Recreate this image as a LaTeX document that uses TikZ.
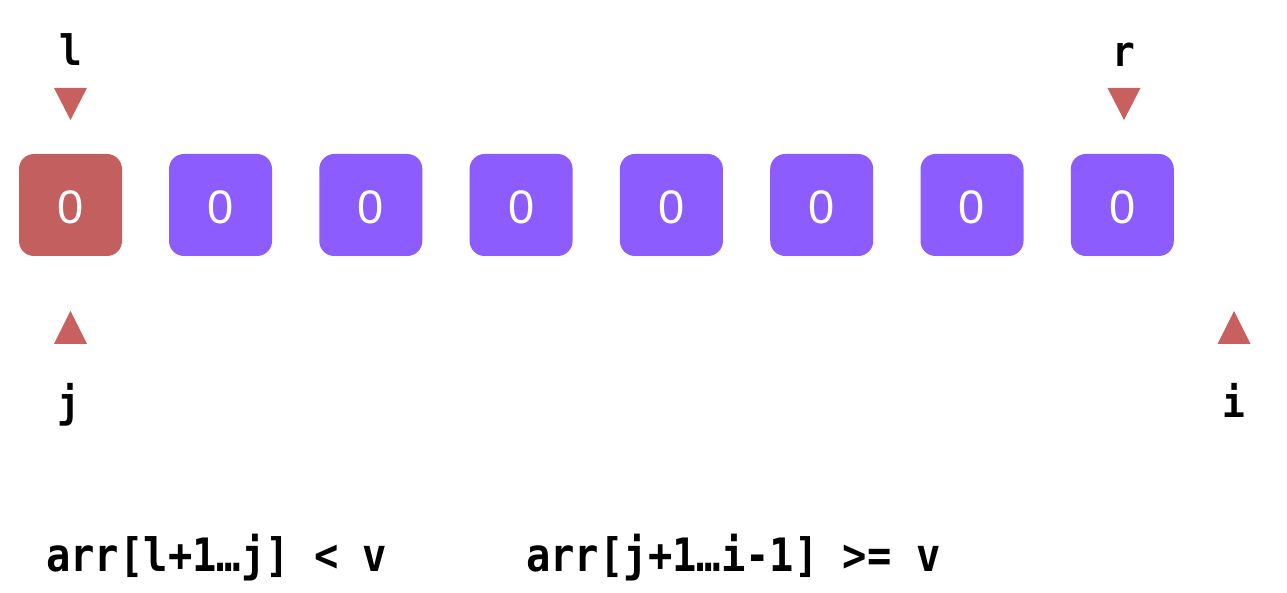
\documentclass[tikz,border=0pt]{standalone}
\usepackage{fontspec}
\setmonofont{DejaVu Sans Mono}
\newfontfamily\digitfont{Liberation Sans}
\definecolor{cellred}{RGB}{196,95,95}
\definecolor{cellpurple}{RGB}{140,92,255}
\definecolor{tri}{RGB}{200,96,96}
\begin{document}
\begin{tikzpicture}[x=1pt,y=1pt,
  cell/.style={rounded corners=15pt, minimum width=103pt, minimum height=102pt, inner sep=0pt},
  digit/.style={inner sep=0pt, text=white, font=\digitfont\fontsize{47}{47}\selectfont},
  lbl/.style={anchor=base, inner sep=0pt, xscale=0.9, font=\ttfamily\bfseries\fontsize{42}{42}\selectfont},
  cond/.style={anchor=base west, inner sep=0pt, xscale=0.88, font=\ttfamily\bfseries\fontsize{46}{46}\selectfont},
  tripath/.style={fill=tri, draw=none}]
\useasboundingbox (0,0) rectangle (1287,593);
\fill[white] (0,0) rectangle (1287,593);
% cells
\node[cell, fill=cellred] (c0) at (70.5,388) {};
\node[digit] (d0) at ([yshift=-2pt]c0.center) {0};
\foreach \k/\x in {1/220.5,2/370.8,3/521.1,4/671.4,5/821.7,6/972,7/1122.3}{
  \node[cell, fill=cellpurple] (c\k) at (\x,388) {};
  \node[digit] (d\k) at ([yshift=-2pt]c\k.center) {0};
}
% pointer labels
\node[lbl] (lab-l) at (70.5,527) {l};
\node[lbl] (lab-r) at (1124,526) {r};
\node[lbl] (lab-j) at (69,175) {j};
\node[lbl] (lab-i) at (1234,175) {i};
% triangles
\coordinate (tl) at (70.5,473);
\coordinate (tr) at (1124,473);
\coordinate (bj) at (70.5,282);
\coordinate (bi) at (1234,282);
\fill[tripath] (tl) -- ++(-16.5,32) -- ++(33,0) -- cycle;
\fill[tripath] (tr) -- ++(-16.5,32) -- ++(33,0) -- cycle;
\fill[tripath] (bj) -- ++(-16.5,-33) -- ++(33,0) -- cycle;
\fill[tripath] (bi) -- ++(-16.5,-33) -- ++(33,0) -- cycle;
% conditions
\node[cond] (cond1) at (46,21) {arr[l+1…j] < v};
\node[cond] (cond2) at (526,21) {arr[j+1…i-1] >= v};
\end{tikzpicture}
\end{document}
